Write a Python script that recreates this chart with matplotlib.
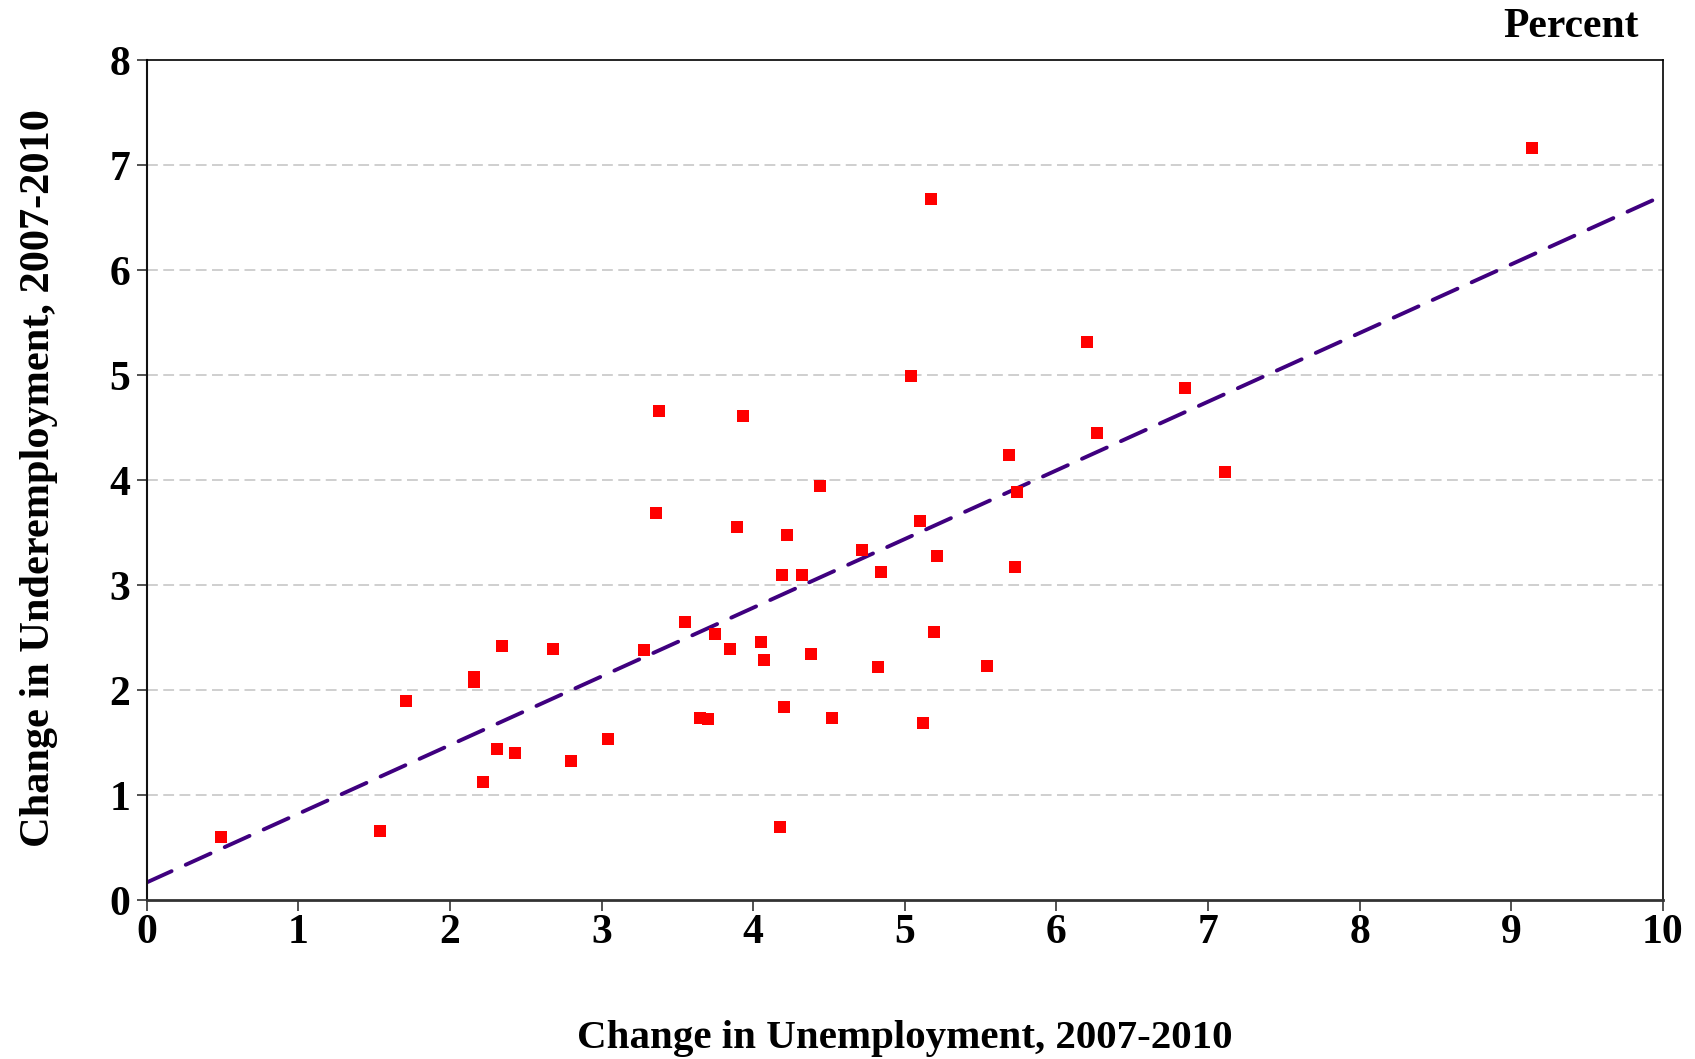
import numpy as np
import matplotlib
matplotlib.use("Agg")
import matplotlib.pyplot as plt

# change in unemployment vs change in underemployment, 2007-2010 (percent points)
unemp_chg = [0.49, 1.54, 1.71, 2.16, 2.16, 2.22, 2.31, 2.34, 2.43, 2.68,
             2.80, 3.04, 3.28, 3.36, 3.38, 3.55, 3.65, 3.70, 3.75, 3.85,
             3.89, 3.93, 4.05, 4.07, 4.18, 4.19, 4.20, 4.22, 4.32, 4.38,
             4.44, 4.52, 4.72, 4.82, 4.84, 5.04, 5.10, 5.12, 5.17, 5.19,
             5.21, 5.54, 5.69, 5.73, 5.74, 6.20, 6.27, 6.85, 7.11, 9.14]
underemp_chg = [0.60, 0.66, 1.90, 2.12, 2.08, 1.12, 1.44, 2.42, 1.40, 2.39,
                1.32, 1.53, 2.38, 3.69, 4.66, 2.65, 1.73, 1.72, 2.53, 2.39,
                3.55, 4.61, 2.46, 2.29, 0.70, 3.10, 1.84, 3.48, 3.10, 2.34,
                3.94, 1.73, 3.33, 2.22, 3.12, 4.99, 3.61, 1.69, 6.68, 2.55,
                3.28, 2.23, 4.24, 3.17, 3.89, 5.31, 4.45, 4.88, 4.08, 7.16]

# trend line
trend_intercept = 0.168
trend_slope = 0.654

x_ticks = [0, 1, 2, 3, 4, 5, 6, 7, 8, 9, 10]
y_ticks = [0, 1, 2, 3, 4, 5, 6, 7, 8]

plt.rcParams['font.family'] = ['Liberation Serif', 'DejaVu Serif']
plt.rcParams['font.weight'] = 'bold'

fig = plt.figure(figsize=(16.95, 10.59), dpi=100)
ax = fig.add_axes([0.0866, 0.1501, 0.8944, 0.7932])

for y in y_ticks[1:-1]:
    ax.axhline(y, color='#cccccc', lw=1.3, dashes=(6, 3), zorder=1)

xx = np.array([0, 10])
ax.plot(xx, trend_intercept + trend_slope * xx, color='#3f007f', lw=2.8,
        dashes=(7, 4), dash_capstyle='round', zorder=2)
ax.plot(unemp_chg, underemp_chg, 's', color='#ff0000', ms=9.3, mew=0, zorder=3)

ax.set_xlim(0, 10)
ax.set_ylim(0, 8)
ax.set_xticks(x_ticks)
ax.set_yticks(y_ticks)
ax.tick_params(axis='x', direction='out', length=8, width=1.2, color='#333333',
               labelsize=30, pad=2)
ax.tick_params(axis='y', direction='out', length=7, width=1.2, color='#333333',
               labelsize=30, pad=5)
for lab in ax.get_xticklabels() + ax.get_yticklabels():
    lab.set_fontweight('bold')

ax.spines['bottom'].set_linewidth(2.0)
ax.spines['bottom'].set_color('#333333')
ax.spines['left'].set_linewidth(1.5)
ax.spines['left'].set_color('#111111')
ax.spines['top'].set_linewidth(1.2)
ax.spines['right'].set_linewidth(1.2)

fig.text(0.5337, 1 - 1048 / 1059, 'Change in Unemployment, 2007-2010',
         ha='center', va='baseline', fontsize=29.5, fontweight='bold')
fig.text(39 / 1695, 1 - 478 / 1059, 'Change in Underemployment, 2007-2010',
         ha='center', va='center', rotation=90, fontsize=30.5, fontweight='bold')
fig.text(1639 / 1695, 1 - 37 / 1059, 'Percent', ha='right', va='baseline',
         fontsize=30, fontweight='bold')

fig.savefig('out.png', dpi=100)
